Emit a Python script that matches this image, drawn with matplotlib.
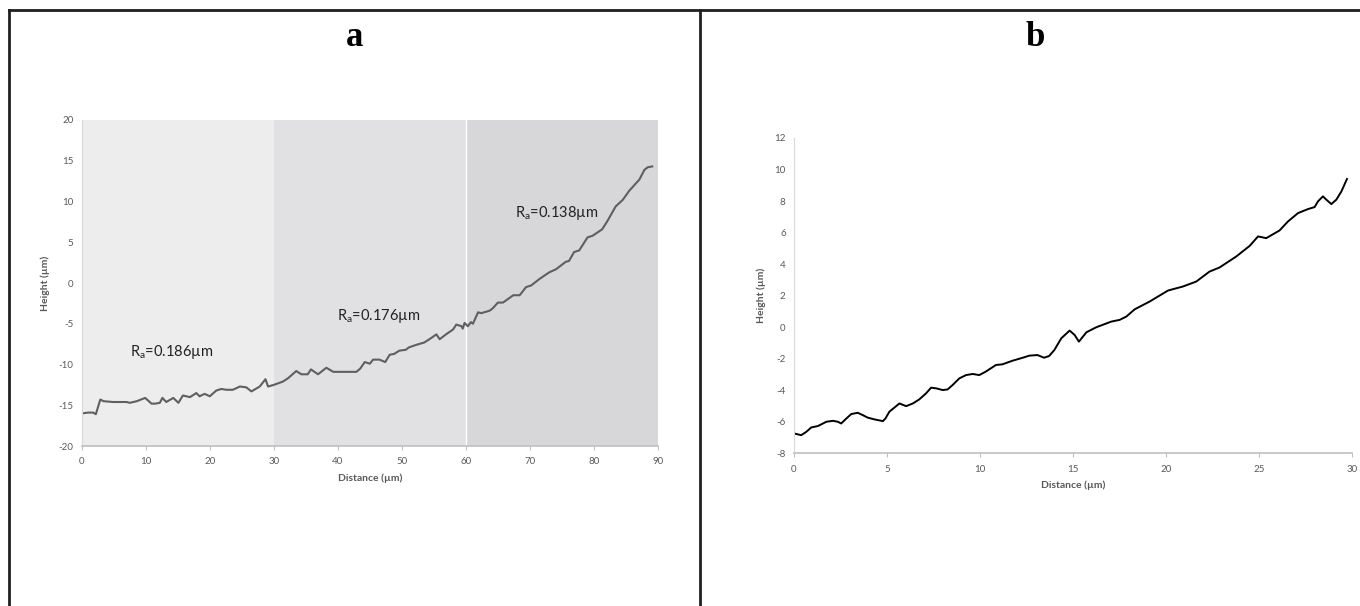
import numpy as np
import matplotlib.pyplot as plt
from matplotlib.lines import Line2D

plt.rcParams['font.family'] = ['Lato', 'DejaVu Sans']
plt.rcParams['mathtext.default'] = 'regular'
plt.rcParams['axes.unicode_minus'] = False

# ---- panel a: profile over 90 um, three zones ----
dist_a = [0, 1.0, 1.8, 2.2, 2.9, 3.4, 4.9, 7.0, 7.5, 8.6, 9.9, 10.2, 10.9, 11.5,
          12.2, 12.6, 13.2, 14.3, 15.1, 15.8, 16.9, 17.9, 18.4, 19.2, 20.0, 21.0,
          21.8, 22.6, 23.6, 24.7, 25.7, 26.5, 27.8, 28.7, 29.1, 30.0, 31.4, 32.2,
          33.5, 34.3, 35.3, 35.8, 36.9, 38.2, 39.3, 40.0, 42.9, 43.5, 44.2, 45.0,
          45.5, 46.5, 47.4, 48.1, 48.8, 49.6, 50.6, 51.1, 52.2, 53.5, 54.3, 55.4,
          55.9, 56.9, 58.0, 58.5, 59.3, 59.5, 59.8, 60.3, 60.8, 61.1, 61.9, 62.4,
          63.7, 64.2, 65.0, 65.8, 67.4, 68.4, 69.4, 70.2, 71.5, 73.0, 74.1, 75.6,
          76.1, 76.9, 77.7, 79.0, 79.8, 81.3, 82.1, 83.4, 84.5, 85.5, 87.1, 87.9,
          88.4, 89.1]
height_a = [-16.0, -15.9, -15.9, -16.1, -14.3, -14.5, -14.6, -14.6, -14.7, -14.5,
            -14.1, -14.3, -14.8, -14.8, -14.7, -14.1, -14.6, -14.1, -14.7, -13.8,
            -14.0, -13.5, -13.9, -13.6, -13.9, -13.2, -13.0, -13.1, -13.1, -12.7,
            -12.8, -13.3, -12.7, -11.8, -12.7, -12.5, -12.1, -11.7, -10.8, -11.2,
            -11.2, -10.6, -11.2, -10.4, -10.9, -10.9, -10.9, -10.5, -9.7, -9.9,
            -9.4, -9.4, -9.7, -8.8, -8.7, -8.3, -8.2, -7.9, -7.6, -7.3, -6.9, -6.3,
            -6.9, -6.3, -5.7, -5.1, -5.3, -5.6, -4.9, -5.3, -4.8, -5.0, -3.6, -3.7,
            -3.4, -3.1, -2.4, -2.4, -1.5, -1.5, -0.5, -0.3, 0.5, 1.3, 1.7, 2.6, 2.7,
            3.8, 4.0, 5.6, 5.8, 6.6, 7.6, 9.4, 10.2, 11.3, 12.7, 13.9, 14.2, 14.3]
zone_edges = [0, 30, 60, 90]
zone_colors = ['#ededed', '#e1e1e3', '#d7d7d9']
ra_labels = ['R$_a$=0.186µm', 'R$_a$=0.176µm', 'R$_a$=0.138µm']
ra_pos = [(7.5, -8.5), (39.9, -4.0), (67.6, 8.6)]

# ---- panel b: profile over 30 um ----
dist_b = [0, 0.39, 0.66, 0.93, 1.29, 1.74, 2.09, 2.36, 2.54, 2.72, 3.08, 3.43,
          3.7, 3.97, 4.33, 4.78, 4.92, 5.13, 5.67, 6.03, 6.39, 6.74, 7.1, 7.37,
          7.64, 8.0, 8.26, 8.53, 8.89, 9.25, 9.61, 9.96, 10.3, 10.86, 11.2, 11.75,
          12.3, 12.65, 13.09, 13.45, 13.72, 14.0, 14.37, 14.82, 15.09, 15.32,
          15.72, 16.25, 17.06, 17.51, 17.87, 18.32, 19.12, 20.11, 20.9, 21.63,
          22.34, 22.88, 23.78, 24.5, 24.95, 25.39, 26.11, 26.56, 27.1, 27.63,
          27.99, 28.17, 28.44, 28.62, 28.89, 29.16, 29.43, 29.73]
height_b = [-6.73, -6.84, -6.63, -6.35, -6.26, -5.99, -5.93, -5.99, -6.1, -5.89,
            -5.5, -5.42, -5.57, -5.73, -5.84, -5.95, -5.78, -5.35, -4.83, -5.0,
            -4.83, -4.57, -4.19, -3.83, -3.87, -3.98, -3.94, -3.66, -3.24, -3.03,
            -2.96, -3.03, -2.82, -2.39, -2.35, -2.12, -1.93, -1.8, -1.76, -1.93,
            -1.82, -1.44, -0.7, -0.21, -0.49, -0.91, -0.32, 0.0, 0.36, 0.47, 0.68,
            1.14, 1.63, 2.33, 2.58, 2.9, 3.53, 3.79, 4.49, 5.16, 5.76, 5.65, 6.14,
            6.71, 7.24, 7.49, 7.62, 7.98, 8.30, 8.09, 7.81, 8.09, 8.61, 9.4]

grey = '#595959'
fig = plt.figure(figsize=(13.6, 6.06), dpi=100)

# outer frame like the printed figure
frame = dict(color='#231f20', lw=2, transform=fig.transFigure)
fig.add_artist(Line2D([9 / 1360, 1], [1 - 10 / 606, 1 - 10 / 606], **frame))
fig.add_artist(Line2D([9 / 1360, 9 / 1360], [0, 1 - 10 / 606], **frame))
fig.add_artist(Line2D([700 / 1360, 700 / 1360], [0, 1 - 10 / 606], **frame))
fig.text(355 / 1360, 1 - 37 / 606, 'a', family='Liberation Serif', weight='bold',
         fontsize=25, ha='center', va='center')
fig.text(1035 / 1360, 1 - 37 / 606, 'b', family='Liberation Serif', weight='bold',
         fontsize=25, ha='center', va='center')

def style(ax):
    for s in ['top', 'right']:
        ax.spines[s].set_visible(False)
    ax.spines['left'].set_color('#d9d9d9')
    ax.spines['bottom'].set_color('#bfbfbf')
    ax.spines['bottom'].set_linewidth(1.2)
    ax.tick_params(axis='y', length=0, labelsize=7, labelcolor=grey, pad=6)
    ax.tick_params(axis='x', length=3, color='#bfbfbf', labelsize=7,
                   labelcolor=grey, pad=5)
    ax.set_xlabel('Distance (µm)', fontsize=7.5, color=grey, weight='bold', labelpad=5)
    ax.set_ylabel('Height (µm)', fontsize=7.5, color=grey, weight='bold', labelpad=6)

# panel a
ax1 = fig.add_axes([0.0601, 0.264, 0.4237, 0.538])
for i in range(3):
    ax1.axvspan(zone_edges[i], zone_edges[i + 1], color=zone_colors[i], lw=0, zorder=0)
ax1.axvline(60, color='white', lw=1, zorder=1)
ax1.plot(dist_a, height_a, color='#5f5f5f', lw=1.5, zorder=2,
         solid_joinstyle='round')
for lab, (x, y) in zip(ra_labels, ra_pos):
    ax1.text(x, y, lab, fontsize=10.5, color='#222222', va='center', ha='left')
ax1.set_xlim(0, 90)
ax1.set_ylim(-20, 20)
ax1.set_xticks(np.arange(0, 91, 10))
ax1.set_yticks(np.arange(-20, 21, 5))
style(ax1)

# panel b
ax2 = fig.add_axes([0.5838, 0.2517, 0.4103, 0.5206])
ax2.plot(dist_b, height_b, color='black', lw=1.4, solid_joinstyle='round')
ax2.set_xlim(0, 30)
ax2.set_ylim(-8, 12)
ax2.set_xticks(np.arange(0, 31, 5))
ax2.set_yticks(np.arange(-8, 13, 2))
style(ax2)

fig.savefig('out.png', dpi=100)
